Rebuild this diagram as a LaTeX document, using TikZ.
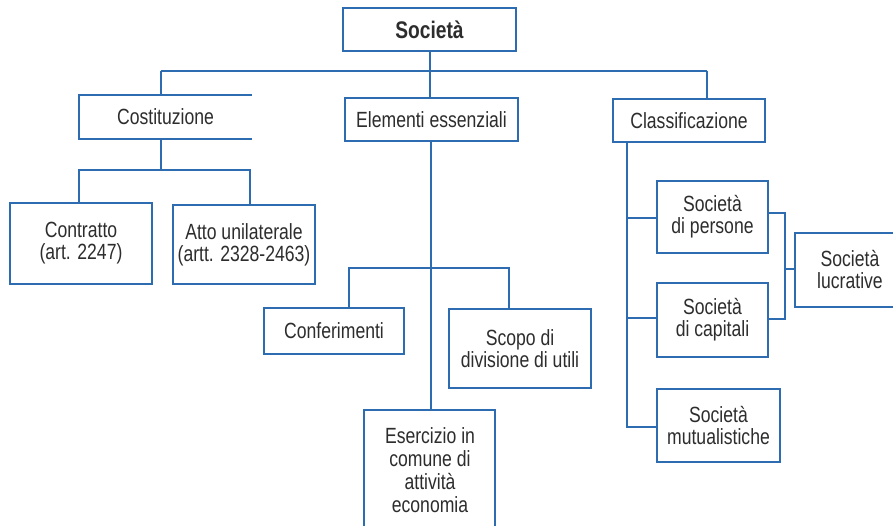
\documentclass[tikz,border=0pt]{standalone}
\usepackage{fontspec}
\setmainfont{Liberation Sans}[FakeStretch=0.8]
\definecolor{lineblue}{RGB}{46,108,178}
\definecolor{txtgray}{RGB}{45,45,45}
\begin{document}
\begin{tikzpicture}[x=1pt,y=-1pt,
  box/.style={draw=lineblue, line width=1.6pt, fill=white, inner sep=0pt, align=center,
    text=txtgray, font=\fontsize{22}{22}\selectfont},
  txt/.style={inner sep=0pt, align=center, text=txtgray, font=\fontsize{22}{23}\selectfont},
  conn/.style={draw=lineblue, line width=1.6pt}]
\path[clip] (0,0) rectangle (893,526);
\fill[white] (0,0) rectangle (893,526);

% nodes
\node[box, minimum width=173, minimum height=43, font=\fontsize{24}{24}\selectfont\bfseries] (soc) at (429.5,29.5) {Società};
\node[box, draw=none, minimum width=171, minimum height=42] (cost) at (165.5,117) {Costituzione};
\node[box, minimum width=173, minimum height=43] (elem) at (431.5,119.5) {Elementi essenziali};
\node[box, minimum width=152, minimum height=43] (clas) at (689,120.5) {Classificazione};

\node[box, minimum width=142, minimum height=81] (contr) at (81,243.5) {Contratto\\(art. 2247)};
\node[box, minimum width=142, minimum height=79] (atto) at (244,244.5) {Atto unilaterale\\(artt. 2328-2463)};

\node[box, minimum width=140, minimum height=46] (conf) at (334,331) {Conferimenti};
\node[box, minimum width=142, minimum height=79] (scopo) at (520,348.5) {Scopo di\\divisione di utili};
\node[box, minimum width=131, minimum height=150, anchor=north] (ese) at (429.5,409) {};
\node[txt] (eset) at (430,470) {Esercizio in\\comune di\\attività\\economia};

\node[box, minimum width=111, minimum height=72] (pers) at (712.5,217) {Società\\di persone};
\node[box, minimum width=111, minimum height=74] (capi) at (712.5,320) {Società\\di capitali};
\node[box, minimum width=123, minimum height=73] (mutu) at (718.5,425.5) {Società\\mutualistiche};
\node[box, minimum width=110, minimum height=74] (lucr) at (850,270) {Società\\lucrative};

% coordinates
\coordinate (top) at (430,71);
\coordinate (cl) at (161,71);
\coordinate (cr) at (707,71);
\coordinate (ch) at (161,170);
\coordinate (chl) at (79,170);
\coordinate (chr) at (250,170);
\coordinate (eh) at (431,268);
\coordinate (ehl) at (349,268);
\coordinate (ehr) at (509,268);
\coordinate (br) at (785,269);

% Costituzione open box (no right side)
\draw[conn] (cost.north east) -- (cost.north west) -- (cost.south west) -- (cost.south east);

% connectors
\draw[conn] (soc.south -| top) -- (elem.north -| top);
\draw[conn] (cl) -- (cr);
\draw[conn] (cl) -- (cl |- cost.north);
\draw[conn] (cr) -- (cr |- clas.north);

\draw[conn] (ch |- cost.south) -- (ch);
\draw[conn] (chl |- contr.north) -- (chl) -- (chr) -- (chr |- atto.north);

\draw[conn] (elem.south -| eh) -- (ese.north -| eh);
\draw[conn] (ehl |- conf.north) -- (ehl) -- (ehr) -- (ehr |- scopo.north);

\draw[conn] (clas.south -| 627,0) -- (627,427) -- (mutu.west |- 0,427);
\draw[conn] (627,218) -- (pers.west |- 0,218);
\draw[conn] (627,318) -- (capi.west |- 0,318);

\draw[conn] (pers.east |- 0,213) -- (785,213) -- (785,319) -- (capi.east |- 0,319);
\draw[conn] (br) -- (br -| lucr.west);
\end{tikzpicture}
\end{document}
